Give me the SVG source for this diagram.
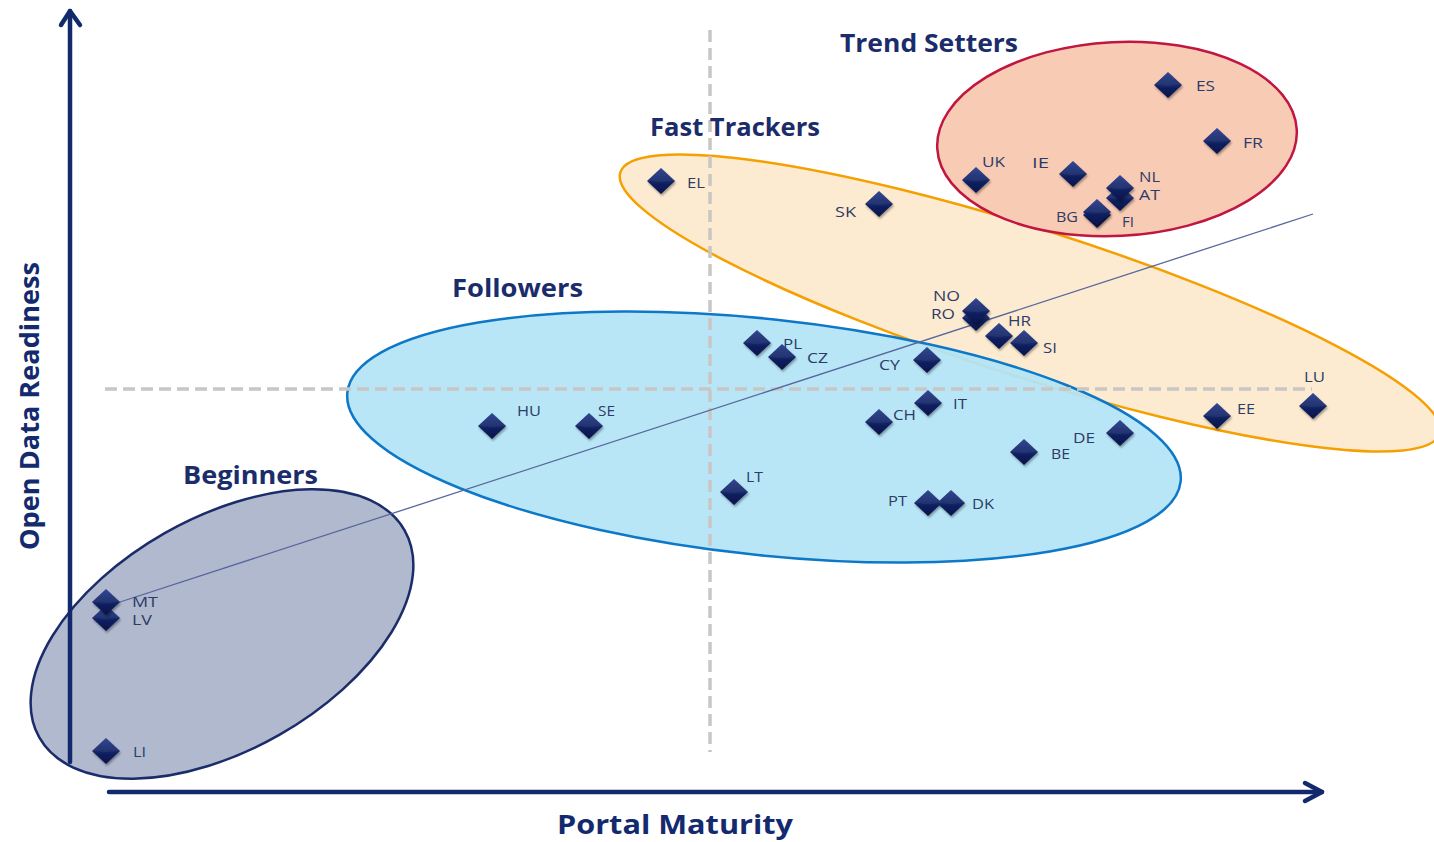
<svg xmlns="http://www.w3.org/2000/svg" xmlns:xlink="http://www.w3.org/1999/xlink" width="1434" height="842" viewBox="0 0 1434 842">
<style>
.lbl{font-family:"Open Sans","Liberation Sans",sans-serif;font-size:15px;fill:#2d3b66}
.sm{font-size:14px}
.ttl{font-family:"Open Sans","Liberation Sans",sans-serif;font-size:25px;font-weight:bold;fill:#1b2c6b}
.ax{font-family:"Open Sans","Liberation Sans",sans-serif;font-size:27px;font-weight:bold;fill:#142a6e}
.dash{stroke:#c9c6c4;stroke-width:3.5;stroke-dasharray:12 6;fill:none}
.axis{stroke:#12296b;stroke-width:4.5;fill:none;stroke-linecap:round;stroke-linejoin:round}
</style>
<defs>
<linearGradient id="dg" x1="0" y1="0" x2="0" y2="1">
<stop offset="0" stop-color="#23398a"/>
<stop offset="0.5" stop-color="#132466"/>
<stop offset="1" stop-color="#081247"/>
</linearGradient>
<filter id="sh" x="-60%" y="-60%" width="220%" height="220%">
<feDropShadow dx="1" dy="2" stdDeviation="1.3" flood-color="#000" flood-opacity="0.35"/>
</filter>
<g id="dm" filter="url(#sh)">
<path d="M0,-13 L14,0 L0,13 L-14,0Z" fill="url(#dg)"/>
<path d="M-14,0 L0,-13 L14,0 L0,1Z" fill="#ffffff" opacity="0.07"/>
</g>
</defs>
<rect width="1434" height="842" fill="#ffffff"/>

<g id="clusters">
<g id="fast-trackers"><ellipse cx="1030" cy="303" rx="430" ry="74" transform="rotate(17.7 1030 303)" fill="#fdebd1" stroke="#f5a000" stroke-width="2.5"/></g>
<g id="trend-setters"><ellipse cx="1117" cy="139" rx="180" ry="97" transform="rotate(-3 1117 139)" fill="#f8cbb5" stroke="#c1163f" stroke-width="2.5"/></g>
<g id="beginners"><ellipse cx="222" cy="634" rx="210" ry="116" transform="rotate(-29.6 222 634)" fill="#b1b9cf" stroke="#1b2c6a" stroke-width="2.5"/></g>
<g id="followers"><ellipse cx="764" cy="437" rx="419" ry="118" transform="rotate(6.1 764 437)" fill="#b2e4f6" fill-opacity="0.92" stroke="#0e78c8" stroke-width="2.5"/></g>
</g>

<g id="connectors">
<line class="dash" x1="710" y1="30" x2="710" y2="752"/>
<line class="dash" x1="105" y1="389" x2="1312" y2="389"/>
<line x1="117" y1="603" x2="1313" y2="214" stroke="#56679b" stroke-width="1.3"/>
<path class="axis" d="M70,762 L70,11"/>
<path class="axis" d="M61,25 L70,11 L80,25"/>
<path class="axis" d="M109,792 L1322,792"/>
<path class="axis" d="M1305,783 L1322,792 L1305,801"/>
</g>

<g id="n-EL"><use xlink:href="#dm" x="661" y="181"/><text class="lbl" x="687" y="188" textLength="18" lengthAdjust="spacingAndGlyphs">EL</text></g>
<g id="n-SK"><use xlink:href="#dm" x="879" y="204"/><text class="lbl" x="835" y="217" textLength="21" lengthAdjust="spacingAndGlyphs">SK</text></g>
<g id="n-UK"><use xlink:href="#dm" x="976" y="180"/><text class="lbl" x="982" y="167" textLength="23" lengthAdjust="spacingAndGlyphs">UK</text></g>
<g id="n-IE"><use xlink:href="#dm" x="1073" y="174"/><text class="lbl" x="1032" y="168" textLength="17" lengthAdjust="spacingAndGlyphs">IE</text></g>
<g id="n-ES"><use xlink:href="#dm" x="1168" y="85"/><text class="lbl" x="1196" y="91" textLength="19" lengthAdjust="spacingAndGlyphs">ES</text></g>
<g id="n-FR"><use xlink:href="#dm" x="1217" y="141"/><text class="lbl" x="1243" y="148" textLength="20" lengthAdjust="spacingAndGlyphs">FR</text></g>
<g id="n-AT"><use xlink:href="#dm" x="1120" y="198"/><text class="lbl" x="1139" y="200" textLength="21" lengthAdjust="spacingAndGlyphs">AT</text></g>
<g id="n-NL"><use xlink:href="#dm" x="1120" y="188"/><text class="lbl" x="1139" y="182" textLength="21" lengthAdjust="spacingAndGlyphs">NL</text></g>
<g id="n-FI"><use xlink:href="#dm" x="1097" y="215"/><text class="lbl" x="1122" y="227" textLength="12" lengthAdjust="spacingAndGlyphs">FI</text></g>
<g id="n-BG"><use xlink:href="#dm" x="1097" y="212"/><text class="lbl" x="1056" y="222" textLength="22" lengthAdjust="spacingAndGlyphs">BG</text></g>
<g id="n-RO"><use xlink:href="#dm" x="976" y="318"/><text class="lbl sm" x="931" y="319" textLength="24" lengthAdjust="spacingAndGlyphs">RO</text></g>
<g id="n-NO"><use xlink:href="#dm" x="976" y="311"/><text class="lbl sm" x="933" y="301" textLength="27" lengthAdjust="spacingAndGlyphs">NO</text></g>
<g id="n-HR"><use xlink:href="#dm" x="999" y="336"/><text class="lbl" x="1008" y="326" textLength="23" lengthAdjust="spacingAndGlyphs">HR</text></g>
<g id="n-SI"><use xlink:href="#dm" x="1024" y="343"/><text class="lbl" x="1043" y="353" textLength="14" lengthAdjust="spacingAndGlyphs">SI</text></g>
<g id="n-PL"><use xlink:href="#dm" x="757" y="343"/><text class="lbl" x="783" y="349" textLength="19" lengthAdjust="spacingAndGlyphs">PL</text></g>
<g id="n-CZ"><use xlink:href="#dm" x="782" y="357"/><text class="lbl" x="807" y="363" textLength="21" lengthAdjust="spacingAndGlyphs">CZ</text></g>
<g id="n-CY"><use xlink:href="#dm" x="927" y="360"/><text class="lbl" x="879" y="370" textLength="21" lengthAdjust="spacingAndGlyphs">CY</text></g>
<g id="n-IT"><use xlink:href="#dm" x="928" y="403"/><text class="lbl" x="953" y="409" textLength="14" lengthAdjust="spacingAndGlyphs">IT</text></g>
<g id="n-CH"><use xlink:href="#dm" x="879" y="422"/><text class="lbl" x="893" y="420" textLength="23" lengthAdjust="spacingAndGlyphs">CH</text></g>
<g id="n-HU"><use xlink:href="#dm" x="492" y="426"/><text class="lbl" x="517" y="416" textLength="24" lengthAdjust="spacingAndGlyphs">HU</text></g>
<g id="n-SE"><use xlink:href="#dm" x="589" y="426"/><text class="lbl" x="598" y="416" textLength="17" lengthAdjust="spacingAndGlyphs">SE</text></g>
<g id="n-LT"><use xlink:href="#dm" x="734" y="492"/><text class="lbl" x="746" y="482" textLength="17" lengthAdjust="spacingAndGlyphs">LT</text></g>
<g id="n-PT"><use xlink:href="#dm" x="928" y="503"/><text class="lbl" x="888" y="506" textLength="19" lengthAdjust="spacingAndGlyphs">PT</text></g>
<g id="n-DK"><use xlink:href="#dm" x="951" y="503"/><text class="lbl" x="972" y="509" textLength="22" lengthAdjust="spacingAndGlyphs">DK</text></g>
<g id="n-BE"><use xlink:href="#dm" x="1024" y="452"/><text class="lbl" x="1051" y="459" textLength="19" lengthAdjust="spacingAndGlyphs">BE</text></g>
<g id="n-DE"><use xlink:href="#dm" x="1120" y="433"/><text class="lbl" x="1073" y="443" textLength="22" lengthAdjust="spacingAndGlyphs">DE</text></g>
<g id="n-EE"><use xlink:href="#dm" x="1217" y="416"/><text class="lbl" x="1237" y="414" textLength="18" lengthAdjust="spacingAndGlyphs">EE</text></g>
<g id="n-LU"><use xlink:href="#dm" x="1313" y="406"/><text class="lbl" x="1304" y="382" textLength="21" lengthAdjust="spacingAndGlyphs">LU</text></g>
<g id="n-LV"><use xlink:href="#dm" x="106" y="618"/><text class="lbl sm" x="132" y="625" textLength="20" lengthAdjust="spacingAndGlyphs">LV</text></g>
<g id="n-MT"><use xlink:href="#dm" x="106" y="602"/><text class="lbl sm" x="132" y="607" textLength="26" lengthAdjust="spacingAndGlyphs">MT</text></g>
<g id="n-LI"><use xlink:href="#dm" x="106" y="751"/><text class="lbl" x="133" y="757" textLength="13" lengthAdjust="spacingAndGlyphs">LI</text></g>

<g id="titles">
<text class="ttl" x="840" y="52" textLength="178" lengthAdjust="spacingAndGlyphs">Trend Setters</text>
<text class="ttl" x="650" y="136" textLength="170" lengthAdjust="spacingAndGlyphs">Fast Trackers</text>
<text class="ttl" x="452" y="297" textLength="131" lengthAdjust="spacingAndGlyphs">Followers</text>
<text class="ttl" x="183" y="484" textLength="135" lengthAdjust="spacingAndGlyphs">Beginners</text>
<text class="ax" x="557" y="834" textLength="236" lengthAdjust="spacingAndGlyphs">Portal Maturity</text>
<text class="ax" transform="translate(39,550) rotate(-90)" x="0" y="0" textLength="288" lengthAdjust="spacingAndGlyphs">Open Data Readiness</text>
</g>
</svg>
